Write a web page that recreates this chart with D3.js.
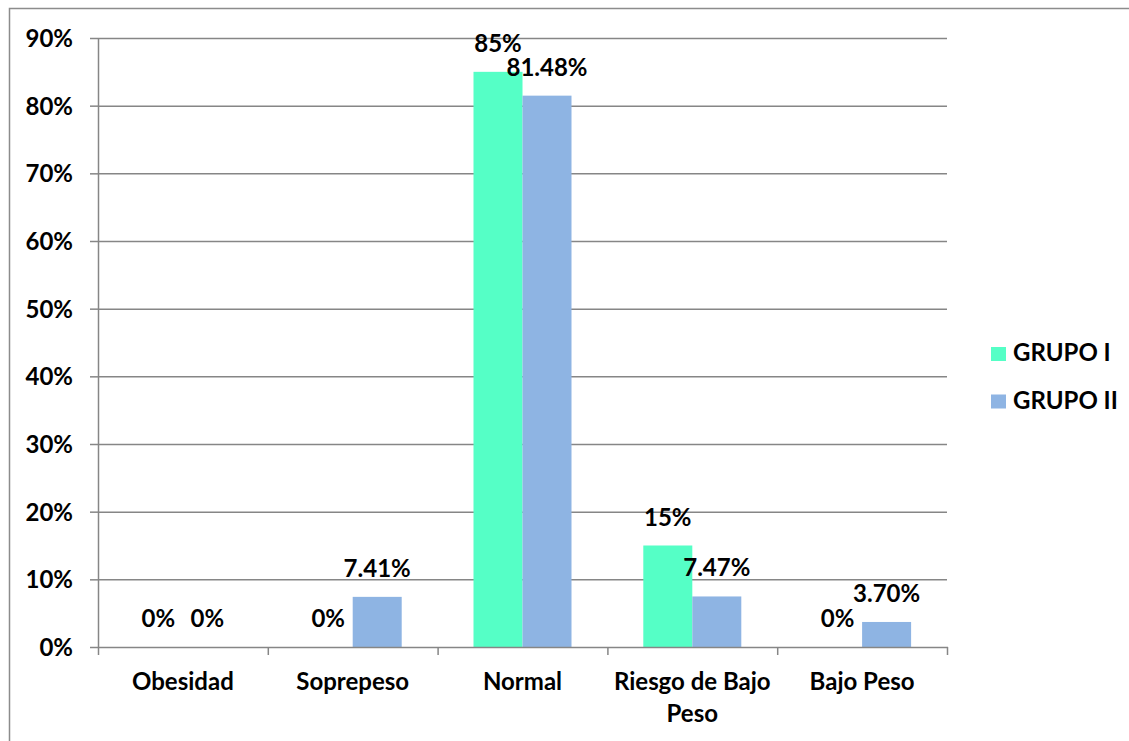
<!DOCTYPE html>
<html>
  <head>
    <meta charset="utf-8">
    <script src="https://d3js.org/d3.v7.min.js"></script>
    <style>
      body { margin: 0; background: #fff; }
      text { font-family: Lato, "Open Sans", sans-serif; font-weight: bold; fill: #000; }
    </style>
  </head>
  <body>
    <svg id="chart" width="1129" height="741"></svg>
    <script>
      // data
      var categories = ["Obesidad", "Soprepeso", "Normal", "Riesgo de Bajo Peso", "Bajo Peso"];
      var series = ["GRUPO I", "GRUPO II"];
      var grupo1 = [0, 0, 85, 15, 0];
      var grupo2 = [0, 7.41, 81.48, 7.47, 3.70];
      var labels1 = ["0%", "0%", "85%", "15%", "0%"];
      var labels2 = ["0%", "7.41%", "81.48%", "7.47%", "3.70%"];
      var yTicks = [0, 10, 20, 30, 40, 50, 60, 70, 80, 90];
      var colors = ["#55FFC6", "#8EB4E3"];

      var svg = d3.select("#chart");
      var margin = { top: 38, left: 98, right: 182, bottom: 94 };
      var width = 1129 - margin.left - margin.right,
        height = 741 - margin.top - margin.bottom;
      var fs = "24px";

      // outer frame
      svg.append("rect")
        .attr("x", 9.5).attr("y", 8.5)
        .attr("width", 1140).attr("height", 760)
        .attr("fill", "none").attr("stroke", "#8c8c8c").attr("stroke-width", 1.5);

      var g = svg.append("g")
        .attr("transform", "translate(" + margin.left + "," + margin.top + ")");

      var x = d3.scaleBand().domain(categories).range([0, width]);
      var xs = d3.scaleBand().domain(series).range([0, 98]);
      var y = d3.scaleLinear().domain([0, 90]).range([height, 0]);

      // gridlines
      g.append("g")
        .selectAll("line")
        .data(yTicks.slice(1))
        .join("line")
        .attr("x1", 0).attr("x2", width)
        .attr("y1", function (d) { return y(d) + 0.5; })
        .attr("y2", function (d) { return y(d) + 0.5; })
        .attr("stroke", "#868686").attr("stroke-width", 1.5);

      // y axis
      var yAxis = g.append("g")
        .call(d3.axisLeft(y).tickValues(yTicks).tickSize(8).tickPadding(17)
          .tickFormat(function (d) { return d + "%"; }));
      yAxis.select(".domain").attr("stroke", "#868686").attr("stroke-width", 1.5).attr("d", "M0.5," + height + "V0");
      yAxis.selectAll(".tick line").attr("stroke", "#868686").attr("stroke-width", 1.5);
      yAxis.selectAll("text").style("font-size", fs).style("font-family", "Lato, sans-serif").attr("dy", "0.36em");

      // bars
      var groups = g.selectAll(".cat")
        .data(categories)
        .join("g")
        .attr("class", "cat")
        .attr("transform", function (d) { return "translate(" + (x(d) + x.bandwidth() / 2 - 49) + ",0)"; });

      var allVals = [grupo1, grupo2];
      var allLabels = [labels1, labels2];
      series.forEach(function (s, si) {
        groups.append("rect")
          .attr("x", xs(s))
          .attr("width", xs.bandwidth())
          .attr("y", function (d, i) { return y(allVals[si][i]); })
          .attr("height", function (d, i) { return height - y(allVals[si][i]); })
          .attr("fill", colors[si]);
      });

      // x axis
      var xAxis = g.append("g")
        .attr("transform", "translate(0," + height + ")");
      xAxis.append("line")
        .attr("x1", 0).attr("x2", width + 1)
        .attr("y1", 0.5).attr("y2", 0.5)
        .attr("stroke", "#868686").attr("stroke-width", 1.5);
      xAxis.selectAll(".xt")
        .data(d3.range(categories.length + 1))
        .join("line")
        .attr("x1", function (d) { return d * x.step() + 0.5; })
        .attr("x2", function (d) { return d * x.step() + 0.5; })
        .attr("y1", 0).attr("y2", 8)
        .attr("stroke", "#868686").attr("stroke-width", 1.5);

      // category labels (wrap long one)
      var catLines = { "Riesgo de Bajo Peso": ["Riesgo de Bajo", "Peso"] };
      categories.forEach(function (c) {
        var lines = catLines[c] || [c];
        var t = xAxis.append("text")
          .attr("text-anchor", "middle")
          .style("font-size", fs);
        lines.forEach(function (ln, li) {
          t.append("tspan")
            .attr("x", x(c) + x.bandwidth() / 2)
            .attr("y", 43 + li * 32)
            .text(ln);
        });
      });

      // value labels
      series.forEach(function (s, si) {
        groups.append("text")
          .attr("text-anchor", "middle")
          .style("font-size", fs)
          .attr("x", xs(s) + xs.bandwidth() / 2)
          .attr("y", function (d, i) { return y(allVals[si][i]) - 20; })
          .text(function (d, i) { return allLabels[si][i]; });
      });

      // legend
      var legend = svg.append("g").attr("transform", "translate(991,347)");
      series.forEach(function (s, si) {
        var lg = legend.append("g").attr("transform", "translate(0," + si * 47.5 + ")");
        lg.append("rect").attr("x", 0).attr("y", 0).attr("width", 15).attr("height", 14).attr("fill", colors[si]);
        lg.append("text").attr("x", 22).attr("y", 14).style("font-size", fs).text(s);
      });
    </script>
  </body>
</html>
